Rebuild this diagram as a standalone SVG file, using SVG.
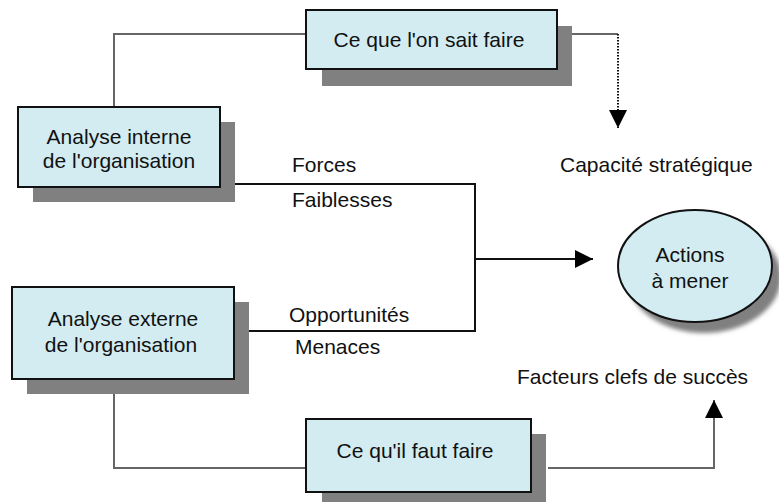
<svg xmlns="http://www.w3.org/2000/svg" width="779" height="502" viewBox="0 0 779 502">
<defs>
<style>
.box{fill:#d2ecf2;stroke:#111;stroke-width:2}
.sh{fill:#808080}
.t{font-family:"Liberation Sans",Arial,sans-serif;font-size:21px;fill:#111}
.c{text-anchor:middle}
.g{fill:none;stroke:#666;stroke-width:2}
.k{fill:none;stroke:#111;stroke-width:2}
</style>
<filter id="blur" x="-20%" y="-20%" width="140%" height="140%"><feGaussianBlur stdDeviation="2"/></filter>
<marker id="ah" viewBox="0 0 10 10" refX="10" refY="5" markerWidth="18" markerHeight="18" markerUnits="userSpaceOnUse" orient="auto"><path d="M0,0 L10,5 L0,10 Z" fill="#000"/></marker>
</defs>
<rect width="779" height="502" fill="#fff"/>
<g id="connectors">
<polyline class="g" points="114,107 114,34 306,34"/>
<polyline class="g" points="572,34 618,34"/>
<line x1="618" y1="34" x2="618" y2="128" stroke="#111" stroke-width="2" stroke-dasharray="1.5,1.5" marker-end="url(#ah)"/>
<polyline class="k" points="235,184 475,184 475,331 234,331"/>
<line class="k" x1="475" y1="259" x2="593" y2="259" marker-end="url(#ah)"/>
<polyline class="g" points="114,379 114,468 306,468"/>
<polyline class="g" points="548,468 714,468 714,400" marker-end="url(#ah)"/>
</g>
<g id="node-savoir">
<rect class="sh" x="322" y="26" width="250" height="60"/>
<rect class="box" x="306" y="10" width="251" height="59"/>
<text class="t c" x="429" y="47">Ce que l'on sait faire</text>
</g>
<g id="node-interne">
<rect class="sh" x="33" y="122" width="202" height="80"/>
<rect class="box" x="18" y="107" width="202" height="80"/>
<text class="t c" x="119" y="144">Analyse interne</text>
<text class="t c" x="119" y="168">de l'organisation</text>
</g>
<g id="node-externe">
<rect class="sh" x="27" y="302" width="222" height="92"/>
<rect class="box" x="12" y="287" width="222" height="92"/>
<text class="t c" x="123" y="326">Analyse externe</text>
<text class="t c" x="121" y="352">de l'organisation</text>
</g>
<g id="node-faut">
<rect class="sh" x="322" y="434" width="224" height="72"/>
<rect class="box" x="306" y="419" width="225" height="73"/>
<text class="t c" x="415" y="458">Ce qu'il faut faire</text>
</g>
<g id="node-actions">
<ellipse cx="704" cy="277" rx="77" ry="56" fill="#808080" filter="url(#blur)"/>
<ellipse cx="695" cy="266" rx="77" ry="56" fill="#d2ecf2" stroke="#111" stroke-width="2"/>
<text class="t c" x="690" y="262">Actions</text>
<text class="t c" x="690" y="288">à mener</text>
</g>
<g id="labels">
<text class="t" x="292" y="172">Forces</text>
<text class="t" x="292" y="207">Faiblesses</text>
<text class="t" x="289" y="322">Opportunités</text>
<text class="t" x="295" y="354">Menaces</text>
<text class="t" x="560" y="172">Capacité stratégique</text>
<text class="t" x="517" y="384">Facteurs clefs de succès</text>
</g>
</svg>
